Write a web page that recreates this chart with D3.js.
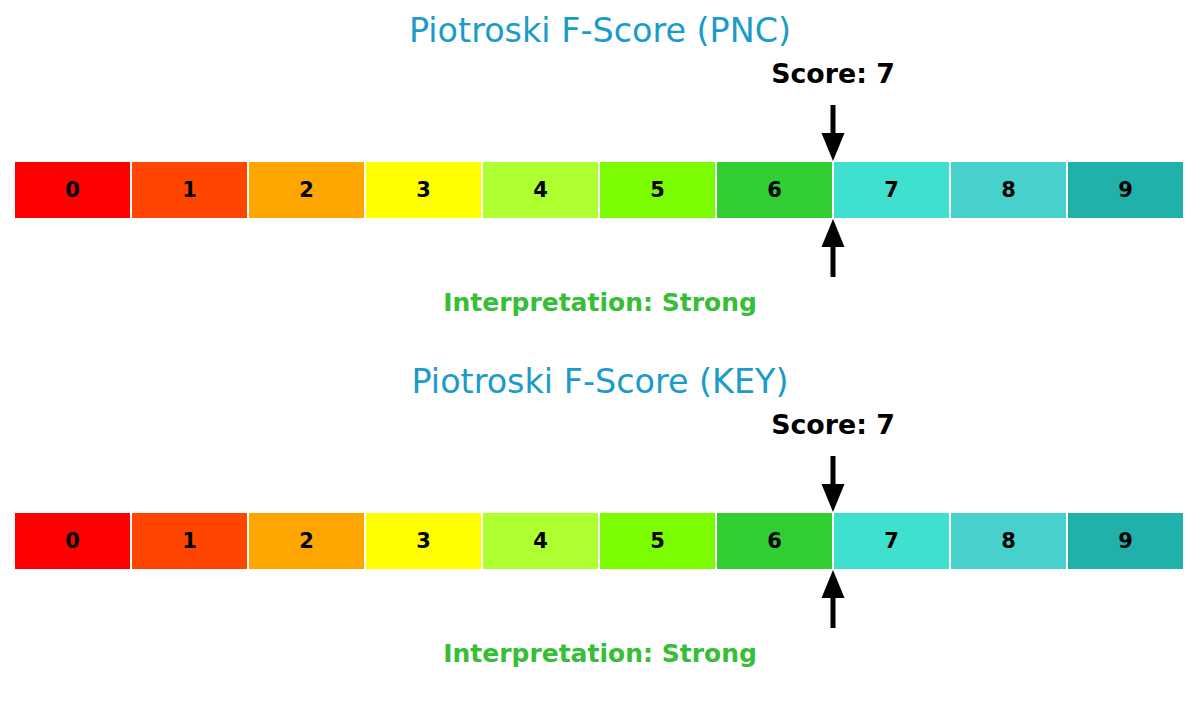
<!DOCTYPE html>
<html>
<head>
<meta charset="utf-8">
<script src="https://cdn.jsdelivr.net/npm/d3@7"></script>
<style>
html,body{margin:0;padding:0;background:#fff;}
svg{display:block;font-family:"DejaVu Sans",sans-serif;}
</style>
</head>
<body>
<svg id="chart" width="1200" height="702"></svg>
<script>
const categories = [0,1,2,3,4,5,6,7,8,9];
const cellColors = ["#ff0000","#ff4500","#ffa500","#ffff00","#adff2f","#7cfc00","#32cd32","#40e0d0","#48d1cc","#20b2aa"];
const companies = ["PNC","KEY"];
const scores = [7,7];
const interpretations = ["Strong","Strong"];

const svg = d3.select("#chart");
const x = d3.scaleLinear().domain([0,10]).range([14,1184]);
const panelOffsets = [0,351];

companies.forEach((co,i)=>{
  const g = svg.append("g").attr("transform",`translate(0,${panelOffsets[i]})`);
  const barTop = 161, barH = 58;
  g.append("text").attr("x",600).attr("y",30).attr("text-anchor","middle")
    .attr("dominant-baseline","central").attr("fill","#1a9bc9").attr("font-size",33.4)
    .text(`Piotroski F-Score (${co})`);
  g.selectAll("rect.cell").data(categories).enter().append("rect").attr("class","cell")
    .attr("x",d=>x(d)).attr("y",barTop).attr("width",x(1)-x(0)).attr("height",barH)
    .attr("fill",(d,j)=>cellColors[j]).attr("stroke","#fff").attr("stroke-width",2);
  g.selectAll("text.lbl").data(categories).enter().append("text").attr("class","lbl")
    .attr("x",d=>x(d+0.5)).attr("y",barTop+barH/2).attr("text-anchor","middle")
    .attr("dominant-baseline","central").attr("font-weight","bold").attr("font-size",21)
    .attr("fill","#000").text(d=>d);
  const sx = x(scores[i]);
  g.append("text").attr("x",sx).attr("y",73).attr("text-anchor","middle")
    .attr("dominant-baseline","central").attr("font-weight","bold").attr("font-size",26.8)
    .attr("fill","#000").text(`Score: ${scores[i]}`);
  const shaftW=5, headW=23, headL=28;
  const down = `M${sx-shaftW/2},105 L${sx+shaftW/2},105 L${sx+shaftW/2},${barTop-headL} L${sx+headW/2},${barTop-headL} L${sx},${barTop} L${sx-headW/2},${barTop-headL} L${sx-shaftW/2},${barTop-headL} Z`;
  g.append("path").attr("d",down).attr("fill","#000");
  const b = barTop+barH;
  const up = `M${sx-shaftW/2},277 L${sx+shaftW/2},277 L${sx+shaftW/2},${b+headL} L${sx+headW/2},${b+headL} L${sx},${b} L${sx-headW/2},${b+headL} L${sx-shaftW/2},${b+headL} Z`;
  g.append("path").attr("d",up).attr("fill","#000");
  g.append("text").attr("x",600).attr("y",302).attr("text-anchor","middle")
    .attr("dominant-baseline","central").attr("font-weight","bold").attr("font-size",25)
    .attr("fill","#36bf36").text(`Interpretation: ${interpretations[i]}`);
});
</script>
</body>
</html>
